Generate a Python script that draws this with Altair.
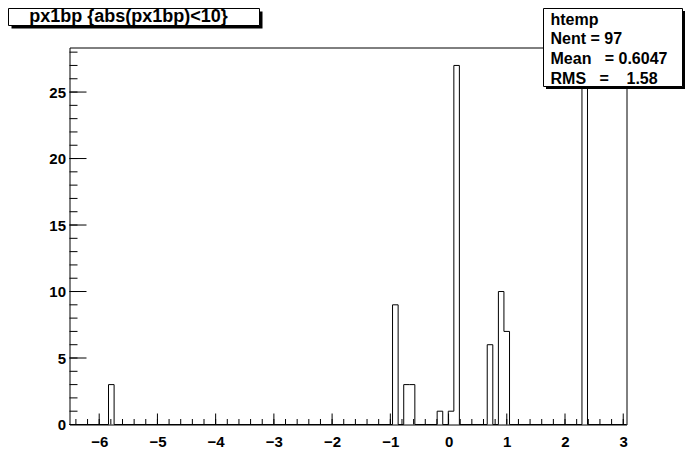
import altair as alt
import pandas as pd

# ---- data ----
bin_lo = [-5.840, -0.962, -0.770, -0.675, -0.196, -0.005, 0.091, 0.664, 0.856, 0.951, 2.291]
bin_hi = [-5.744, -0.866, -0.675, -0.579, -0.100, 0.091, 0.186, 0.760, 0.951, 1.047, 2.386]
counts = [3, 9, 3, 3, 1, 1, 27, 6, 10, 7, 27]

x_range = [-6.51, 3.056]
y_range = [0, 28.35]
x_labels = [-6, -5, -4, -3, -2, -1, 0, 1, 2, 3]
y_labels = [0, 5, 10, 15, 20, 25]
x_minor = [round(-6.4 + 0.2 * i, 1) for i in range(48)]
y_minor = list(range(0, 29))

title_text = "px1bp {abs(px1bp)<10}"
stats_lines = ["htemp", "Nent = 97", "Mean\u00a0\u00a0\u00a0= 0.6047",
               "RMS\u00a0\u00a0\u00a0=\u00a0\u00a0\u00a0\u00a01.58"]

W, H = 557, 377
OX, OY = 69.5, 47.5  # page position of plot origin
FONT = "Liberation Sans"

xs = alt.Scale(domain=x_range, nice=False, zero=False)
ys = alt.Scale(domain=y_range, nice=False, zero=False)
xaxis = alt.Axis(values=x_labels, title=None, tickSize=0, labelPadding=10, domain=False,
                 grid=False, labelFont=FONT, labelFontWeight="bold", labelFontSize=15,
                 labelColor="black", labelFlush=False, labelOverlap=False)
yaxis = alt.Axis(values=y_labels, title=None, tickSize=0, labelPadding=4, domain=False,
                 grid=False, labelFont=FONT, labelFontWeight="bold", labelFontSize=15,
                 labelColor="black", labelOverlap=False)

# step outline of the histogram (ROOT style), built from the bin arrays
px, py = [x_range[0]], [0]
for i, (lo, hi, c) in enumerate(zip(bin_lo, bin_hi, counts)):
    px.append(lo); py.append(c)
    nxt = bin_lo[i + 1] if i + 1 < len(bin_lo) else None
    if nxt is None or abs(nxt - hi) > 1e-6:
        px.append(hi); py.append(0)
px.append(x_range[1]); py.append(0)
outline = pd.DataFrame({"x": px, "y": py, "o": list(range(len(px)))})

hist = alt.Chart(outline).mark_line(color="black", strokeWidth=1, interpolate="step-after").encode(
    x=alt.X("x:Q", scale=xs, axis=xaxis),
    y=alt.Y("y:Q", scale=ys, axis=yaxis),
    order="o:Q",
)

def yticks(vals, length):
    return alt.Chart(pd.DataFrame({"y": vals})).mark_rule(color="black", strokeWidth=1).encode(
        y=alt.Y("y:Q", scale=ys, axis=yaxis), x=alt.value(0), x2=alt.value(length))

def xticks(vals, length):
    return alt.Chart(pd.DataFrame({"x": vals})).mark_rule(color="black", strokeWidth=1).encode(
        x=alt.X("x:Q", scale=xs, axis=xaxis), y=alt.value(H), y2=alt.value(H - length))

one = pd.DataFrame({"a": [0]})

def box(x1, y1, x2, y2, **kw):
    return alt.Chart(one).mark_rect(**kw).encode(
        x=alt.value(x1 - OX), x2=alt.value(x2 - OX), y=alt.value(y1 - OY), y2=alt.value(y2 - OY))

def label(txt, px_, py_, size, align="left"):
    return alt.Chart(one).mark_text(text=txt, font=FONT, fontWeight="bold", fontSize=size,
                                    color="black", align=align, baseline="alphabetic").encode(
        x=alt.value(px_ - OX), y=alt.value(py_ - OY))

layers = [
    hist,
    yticks(y_minor, 8), yticks(y_labels, 17),
    xticks(x_minor, 5.5), xticks(x_labels, 11),
    # title box with shadow
    box(11.5, 11.5, 262.5, 28.5, fill="black", stroke="black", strokeWidth=0),
    box(8.5, 8.5, 259.5, 25.5, fill="white", stroke="black", strokeWidth=1),
    label(title_text, 128.5, 21.5, 18, align="center"),
    # stats box with shadow
    box(546, 11, 685, 89, fill="black", stroke="black", strokeWidth=0),
    box(543.5, 8.5, 682.5, 86.5, fill="white", stroke="black", strokeWidth=1),
]
baselines = [24.5, 44, 64, 83.5]
for t, b in zip(stats_lines, baselines):
    layers.append(label(t, 550.5, b, 16))

chart = alt.layer(*layers).properties(
    width=W, height=H,
    autosize=alt.AutoSizeParams(type="none"),
    padding={"left": OX - 8, "top": OY - 8, "right": 60, "bottom": 30},
    background="white",
).configure_view(stroke="black", strokeWidth=1)

chart.save("out.html", embed_options={"renderer": "svg", "actions": False})
